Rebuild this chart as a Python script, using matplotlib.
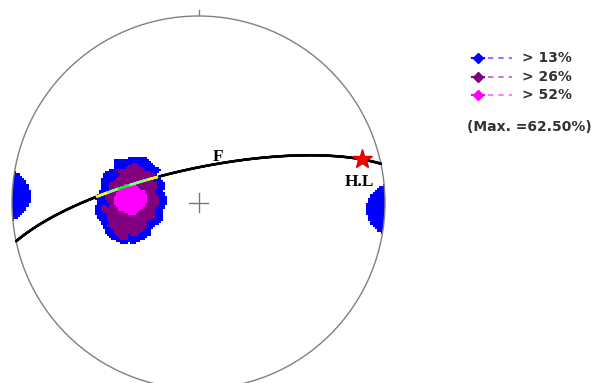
import numpy as np
import matplotlib
matplotlib.use("Agg")
import matplotlib.pyplot as plt
from matplotlib.colors import ListedColormap, BoundaryNorm
from matplotlib.collections import LineCollection
from matplotlib.patches import Circle

# poles (trend, plunge in degrees), lower hemisphere
# main cluster, its scattered outliers, then the sub-horizontal group
pole_trend = [272.1, 280.4, 285.4, 286.3, 280.4, 272.9, 264.6, 260.4, 259.6, 265.4,
              310.8, 236.6, 251.7,
              267, 272, 277]
pole_plunge = [65.3, 64.4, 61.7, 58.1, 55.4, 54.5, 55.8, 58.1, 61.7, 64.4,
               55.9, 52.7, 43.7,
               0, 0, 0]

# plane F and the H.L lineation
plane_dipdir = 348
plane_dip = 75
hl_trend = 75
hl_plunge = 10

# contour levels (% of poles inside the counting cone)
levels = [13, 26, 52]
level_colors = ["#0000ff", "#800080", "#ff00ff"]
dash_colors = ["#8080ff", "#c080c0", "#ff80ff"]
count_angle = 12.5

W, H = 595, 383
CX, CY, R = 198.5, 202.5, 186.5


def px(x, y):
    # pixel position -> net coordinates
    return (x - CX) / R, (CY - y) / R


def to_vec(trend, plunge):
    t = np.radians(trend)
    p = np.radians(plunge)
    return np.stack([np.cos(p) * np.sin(t), np.cos(p) * np.cos(t), np.sin(p)], axis=-1)


def project(v):
    # equal-area (Schmidt) projection, lower hemisphere
    v = np.where(v[..., 2:3] < 0, -v, v)
    theta = np.arccos(np.clip(v[..., 2], -1, 1))
    r = np.sqrt(2) * np.sin(theta / 2)
    az = np.arctan2(v[..., 0], v[..., 1])
    return r * np.sin(az), r * np.cos(az)


def unproject(x, y):
    r = np.hypot(x, y)
    theta = 2 * np.arcsin(np.clip(r / np.sqrt(2), 0, 1))
    az = np.arctan2(x, y)
    return np.stack([np.sin(theta) * np.sin(az), np.sin(theta) * np.cos(az), np.cos(theta)], axis=-1)


poles = to_vec(np.array(pole_trend), np.array(pole_plunge))


def density(v):
    inside = np.abs(v @ poles.T) >= np.cos(np.radians(count_angle))
    return inside.sum(axis=-1) / len(poles) * 100


fig = plt.figure(figsize=(W / 100, H / 100), dpi=100)
ax = fig.add_axes([0, 0, 1, 1])
x0, y0 = px(0, H)
x1, y1 = px(W, 0)
ax.set_xlim(x0, x1)
ax.set_ylim(y0, y1)
ax.set_aspect("equal")
ax.axis("off")

# counting grid
n = 180
edges = np.linspace(-1, 1, n + 1)
centers = (edges[:-1] + edges[1:]) / 2
gx, gy = np.meshgrid(centers, centers)
pct = density(unproject(gx, gy))
max_pct = pct[np.hypot(gx, gy) <= 1].max()

cmap = ListedColormap(level_colors)
norm = BoundaryNorm(levels + [101], cmap.N)
masked = np.ma.masked_where(pct <= levels[0], pct)
im = ax.imshow(masked, extent=(-1, 1, -1, 1), origin="lower", cmap=cmap, norm=norm,
               interpolation="nearest", zorder=2)
clip = Circle((0, 0), 1, transform=ax.transData)
im.set_clip_path(clip)

ax.add_patch(Circle((0, 0), 1, fill=False, ec="#808080", lw=1.0, zorder=3))
ax.plot([0, 0], [1.008, 1.03], color="#808080", lw=1.0, zorder=3)

# great circle of plane F, drawn inverted over the contoured areas
s = np.radians(plane_dipdir - 90)
strike_v = np.array([np.sin(s), np.cos(s), 0.0])
dip_v = to_vec(plane_dipdir, plane_dip)
phi = np.linspace(0, np.pi, 800)
gc = np.outer(np.cos(phi), strike_v) + np.outer(np.sin(phi), dip_v)
lx, ly = project(gc)
mid = (gc[:-1] + gc[1:]) / 2
mid /= np.linalg.norm(mid, axis=1, keepdims=True)
seg_level = np.digitize(density(mid), levels)
inv_colors = ["black", "#ffff00", "#7fff7f", "#00ff00"]
pts = np.column_stack([lx, ly])
segs = np.stack([pts[:-1], pts[1:]], axis=1)
lc = LineCollection(segs, colors=[inv_colors[k] for k in seg_level], linewidths=1.8,
                    capstyle="round", zorder=4)
ax.add_collection(lc)

# centre cross
c = 9.5 / R
ax.plot([-c, c], [0, 0], color="#777777", lw=1.0, zorder=3)
ax.plot([0, 0], [-c, c], color="#777777", lw=1.0, zorder=3)

# H.L star
hx, hy = project(to_vec(hl_trend, hl_plunge))
ax.plot(hx, hy, marker="*", color="#ff0000", markersize=15, mec="#dd0000", zorder=5)

serif = ["Liberation Serif", "DejaVu Serif"]
ax.text(*px(218, 157), "F", family=serif, weight="bold", fontsize=12.5,
        ha="center", va="center", zorder=6)
ax.text(*px(359, 182), "H.L", family=serif, weight="bold", fontsize=12.5,
        ha="center", va="center", zorder=6)

# legend
rows_y = [58, 77, 95]
for yy, lev, col, dcol in zip(rows_y, levels, level_colors, dash_colors):
    ax.plot(*px(478, yy), marker="D", color=col, markersize=5, zorder=6)
    ax.plot([px(472, yy)[0], px(484, yy)[0]], [px(0, yy)[1]] * 2, color=col, lw=1.5, zorder=6)
    ax.plot([px(488, yy)[0], px(512, yy)[0]], [px(0, yy)[1]] * 2, color=dcol, lw=1.5,
            dashes=(2.5, 2.5), zorder=6)
    ax.text(*px(522, yy), f"> {lev}%", fontsize=10, weight="bold", color="#333333",
            ha="left", va="center")
ax.text(*px(467, 127), f"(Max. ={max_pct:.2f}%)", fontsize=10, weight="bold",
        color="#333333", ha="left", va="center")

fig.savefig("out.png", dpi=100)
